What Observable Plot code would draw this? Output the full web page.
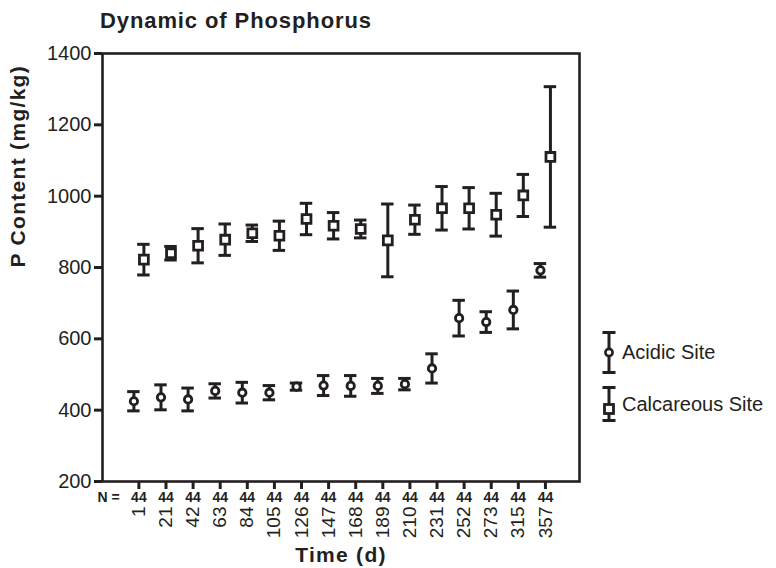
<!DOCTYPE html>
<html><head><meta charset="utf-8">
<script src="https://cdn.jsdelivr.net/npm/d3@7"></script>
<script src="https://cdn.jsdelivr.net/npm/@observablehq/plot@0.6"></script>
<style>
body{margin:0;background:#fff;}
#wrap{position:relative;width:776px;height:568px;font-family:"Liberation Sans",Arial,sans-serif;color:#231f20;}
#title{position:absolute;left:100px;top:10px;font-size:22px;font-weight:bold;letter-spacing:0.9px;line-height:1;white-space:nowrap;}
.item{position:absolute;left:601px;display:flex;align-items:center;}
.item span{font-size:20px;margin-left:5px;white-space:nowrap;}
</style>
</head><body>
<div id="wrap">
<div id="chart"></div>
<div id="title">Dynamic of Phosphorus</div>
<div class="item" style="top:331px;height:43px">
 <svg width="16" height="43"><line x1="8" y1="1.5" x2="8" y2="41.5" stroke="#231f20" stroke-width="3"/><line x1="1.5" y1="1.5" x2="14.5" y2="1.5" stroke="#231f20" stroke-width="3"/><line x1="1.5" y1="41.5" x2="14.5" y2="41.5" stroke="#231f20" stroke-width="3"/><circle cx="8" cy="21.5" r="3.6" fill="white" stroke="#231f20" stroke-width="2.6"/></svg>
 <span>Acidic Site</span>
</div>
<div class="item" style="top:386px;height:36px">
 <svg width="16" height="36"><line x1="8" y1="1.5" x2="8" y2="34.5" stroke="#231f20" stroke-width="3"/><line x1="1.5" y1="1.5" x2="14.5" y2="1.5" stroke="#231f20" stroke-width="3"/><line x1="1.5" y1="34.5" x2="14.5" y2="34.5" stroke="#231f20" stroke-width="3"/><rect x="3.5" y="18.5" width="9" height="9" fill="white" stroke="#231f20" stroke-width="2.8"/></svg>
 <span>Calcareous Site</span>
</div>
</div>
<script>
const days = ["1","21","42","63","84","105","126","147","168","189","210","231","252","273","315","357"];
const nValues = [44,44,44,44,44,44,44,44,44,44,44,44,44,44,44,44];
const acidMean = [425,436,430,454,449,449,466,469,468,468,473,517,658,647,681,792];
const acidErr  = [27,35,32,20,29,20,10,28,29,21,16,41,50,29,53,19];
const calcMean = [822,840,861,878,896,889,936,917,908,876,934,966,966,948,1002,1110];
const calcErr  = [43,19,48,44,23,41,44,37,25,102,41,61,58,60,59,197];
const yTicks = [200,400,600,800,1000,1200,1400];

const ink = "#231f20";
const rows = (m, e) => days.map((d, i) => ({day: d, mean: m[i], lo: m[i] - e[i], hi: m[i] + e[i]}));
const acid = rows(acidMean, acidErr);
const calc = rows(calcMean, calcErr);

function series(data, symbol, dx, r, sw) {
  return [
    Plot.ruleX(data, {x: "day", y1: "lo", y2: "hi", stroke: ink, strokeWidth: 3, dx}),
    Plot.tickY(data, {x: "day", y: "lo", stroke: ink, strokeWidth: 3, dx}),
    Plot.tickY(data, {x: "day", y: "hi", stroke: ink, strokeWidth: 3, dx}),
    Plot.dot(data, {x: "day", y: "mean", symbol, r, fill: "white", stroke: ink, strokeWidth: sw, dx})
  ];
}

const chart = Plot.plot({
  width: 776, height: 568,
  marginLeft: 102, marginRight: 197, marginTop: 53, marginBottom: 87,
  style: {fontFamily: "'Liberation Sans', Arial, sans-serif", fontSize: "19px", color: ink, background: "white", overflow: "visible"},
  x: {type: "band", domain: days, paddingInner: 0.54, paddingOuter: 1.07, align: 0.52, round: false},
  y: {domain: [200, 1400]},
  marks: [
    Plot.axisY(yTicks, {tickSize: 8, tickPadding: 3, strokeWidth: 3, stroke: ink, label: null, fontSize: 20, tickFormat: d => String(d)}),
    Plot.axisX({tickRotate: -90, tickSize: 8, tickPadding: 17, strokeWidth: 3, stroke: ink, label: null, fontSize: 19}),
    Plot.frame({stroke: ink, strokeWidth: 2.6}),
    ...series(acid, "circle", -5, 3.7, 2.8),
    ...series(calc, "square", 5, 5, 2.8),
    Plot.text(nValues, {x: days, text: nValues.map(String), frameAnchor: "bottom", lineAnchor: "middle", dy: 16, fontWeight: "bold", fontSize: 14, fill: ink}),
    Plot.text(["N ="], {frameAnchor: "bottom-left", textAnchor: "start", lineAnchor: "middle", dx: -5, dy: 16, fontWeight: "bold", fontSize: 14, fill: ink}),
    Plot.text(["Time (d)"], {frameAnchor: "bottom", lineAnchor: "middle", dy: 74, fontWeight: "bold", fontSize: 21, fill: ink}),
    Plot.text(["P Content (mg/kg)"], {frameAnchor: "left", rotate: -90, lineAnchor: "middle", dx: -84, fontWeight: "bold", fontSize: 21, fill: ink})
  ]
});
document.getElementById("chart").appendChild(chart);
d3.select(chart).selectAll("text").filter(function(){ return this.textContent === "Time (d)" || this.textContent === "P Content (mg/kg)"; }).style("letter-spacing", "1.3px");
</script>
</body></html>
